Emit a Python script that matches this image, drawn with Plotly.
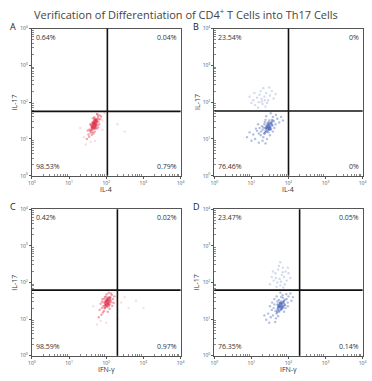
import numpy as np
import plotly.graph_objects as go

TITLE = "Verification of Differentiation of CD4<sup>+</sup> T Cells into Th17 Cells"
panels = ["A", "B", "C", "D"]
x_titles = ["IL-4", "IL-4", "IFN-γ", "IFN-γ"]
y_title = "IL-17"
tick_labels = ["10<sup>0</sup>", "10<sup>1</sup>", "10<sup>2</sup>", "10<sup>3</sup>", "10<sup>4</sup>"]
# quadrant percentages: [upper-left, upper-right, lower-left, lower-right]
quad_pct = [
    ["0.64%", "0.04%", "98.53%", "0.79%"],
    ["23.54%", "0%", "76.46%", "0%"],
    ["0.42%", "0.02%", "98.59%", "0.97%"],
    ["23.47%", "0.05%", "76.35%", "0.14%"],
]
# gate positions (decades)
gate_x = [2.03, 2.0, 2.3, 2.3]
gate_y = [1.75, 1.76, 1.79, 1.79]

# event clouds, in decades (log10 of fluorescence)
A_x = [1.67,1.70,1.64,1.72,1.60,1.75,1.68,1.62,1.78,1.58,1.66,1.73,1.69,1.63,1.80,1.55,1.71,1.65,1.76,1.59,
       1.82,1.52,1.68,1.74,1.61,1.70,1.57,1.79,1.66,1.84,1.50,1.64,1.72,1.77,1.62,1.69,1.54,1.81,1.67,1.75,
       1.48,1.86,1.60,1.73,1.65,1.71,1.56,1.78,1.63,1.69,
       1.66,1.70,1.63,1.73,1.68,1.61,1.75,1.65,1.71,1.69,1.64,1.72,1.67,1.60,1.74,1.66,1.70,1.62,1.68,1.76,
       1.65,1.71,1.63,1.69,1.73]
A_y = [1.43,1.36,1.42,1.54,1.25,1.51,1.27,1.44,1.60,1.17,1.37,1.37,1.55,1.18,1.54,1.26,1.47,1.32,1.37,1.38,
       1.64,1.12,1.59,1.28,1.11,1.52,1.40,1.47,1.15,1.54,1.23,1.56,1.42,1.66,1.30,1.20,1.06,1.40,1.50,1.68,
       1.00,1.61,1.34,1.50,1.46,1.30,1.22,1.31,1.33,1.42,
       1.40,1.45,1.33,1.48,1.36,1.30,1.46,1.28,1.41,1.50,1.38,1.34,1.31,1.22,1.42,1.46,1.30,1.36,1.44,1.55,
       1.41,1.38,1.26,1.33,1.50]
A_out_x = [1.45,1.40,1.58,1.90,1.95,2.30,2.50,1.30,1.70,1.90]
A_out_y = [0.85,1.05,0.92,1.50,1.70,1.40,1.20,1.30,0.95,1.25]

B_lo_x = [1.36,1.45,1.50,1.40,1.30,1.55,1.25,1.48,1.35,1.42,1.60,1.20,1.32,1.52,1.38,1.15,1.65,1.28,1.46,1.58,
          1.10,1.44,1.34,1.70,1.22,1.50,1.40,1.05,1.62,1.30,1.55,1.18,1.75,1.48,1.26,1.00,1.42,1.66,1.36,1.12,
          1.58,0.95,1.80,1.38,1.20,1.52,0.88,1.85,1.46,1.32,1.44,1.50,1.40,1.54,1.47,
          1.44,1.48,1.40,1.52,1.46,1.38,1.55,1.42,1.50,1.47,1.41,1.53,1.45,1.36,1.57,1.43,1.49,1.39,1.46,1.58,
          1.42,1.51,1.37,1.48,1.54]
B_lo_y = [1.29,1.35,1.42,1.20,1.25,1.38,1.10,1.50,1.40,1.30,1.48,1.15,1.05,1.25,1.52,1.22,1.40,1.35,1.18,1.60,
          1.00,1.44,1.15,1.55,1.30,1.10,1.62,1.12,1.30,0.95,1.52,1.40,1.45,1.28,1.20,0.95,1.00,1.65,1.46,1.28,
          1.20,1.18,1.60,0.88,0.90,1.70,1.05,1.50,1.38,1.32,1.26,1.33,1.36,1.45,1.31,
          1.33,1.38,1.27,1.42,1.30,1.22,1.40,1.20,1.34,1.45,1.32,1.28,1.24,1.15,1.36,1.41,1.25,1.30,1.39,1.50,
          1.35,1.31,1.18,1.27,1.46]
B_up_x = [1.27,1.35,1.20,1.40,1.15,1.30,1.45,1.10,1.25,1.50,1.05,1.38,1.22,1.55,1.00,1.32,1.18,1.60,1.42,1.08,
          1.28,1.48,0.95,1.36,1.65]
B_up_y = [2.09,2.15,2.00,2.25,2.12,1.95,2.05,1.92,2.30,2.18,2.05,1.88,2.20,2.30,1.98,2.38,1.85,2.10,1.98,2.25,
          2.02,2.40,2.15,2.05,2.22]

C_x = [2.00,2.05,1.95,2.08,1.92,2.12,2.02,1.97,2.15,1.88,2.03,2.10,1.99,1.94,2.18,1.85,2.06,1.98,2.13,1.90,
       2.20,1.82,2.01,2.09,1.93,2.04,1.87,2.16,1.96,2.22,1.80,2.07,2.11,1.91,2.00,2.14,1.89,2.03,1.97,2.06,
       2.01,2.05,1.98,2.08,2.03,1.96,2.10,2.00,2.06,2.04,1.99,2.07,2.02,1.95,2.09,2.01,2.05,1.97,2.03,2.11,
       2.00,2.06,1.98,2.04,2.08]
C_y = [1.50,1.42,1.55,1.60,1.35,1.52,1.33,1.48,1.66,1.30,1.58,1.40,1.62,1.22,1.55,1.42,1.50,1.38,1.70,1.55,
       1.44,1.25,1.68,1.28,1.45,1.20,1.12,1.36,1.60,1.62,1.05,1.72,1.58,1.18,1.40,1.46,1.48,1.52,1.30,1.35,
       1.48,1.52,1.42,1.56,1.45,1.38,1.50,1.36,1.44,1.58,1.46,1.40,1.40,1.30,1.47,1.54,1.38,1.44,1.52,1.60,
       1.49,1.46,1.34,1.41,1.55]
C_out_x = [1.75,1.85,2.40,2.60,2.80,2.30,1.65,2.00,2.50,3.00]
C_out_y = [0.85,0.95,1.45,1.30,1.50,1.00,1.35,0.90,1.60,1.30]

D_lo_x = [1.76,1.82,1.70,1.88,1.65,1.78,1.72,1.90,1.60,1.85,1.68,1.95,1.74,1.58,1.80,2.00,1.62,1.92,1.52,1.84,
          1.70,1.55,1.98,1.66,1.88,1.45,2.05,1.75,1.80,1.40,1.62,2.08,1.50,1.94,1.72,1.86,1.35,1.78,1.64,2.12,
          1.56,1.82,1.68,1.98,1.48,1.76,1.74,1.80,1.70,1.84,
          1.77,1.81,1.73,1.85,1.79,1.71,1.88,1.75,1.83,1.80,1.74,1.86,1.78,1.69,1.90,1.76,1.82,1.72,1.79,1.91,
          1.75,1.84,1.70,1.81,1.87]
D_lo_y = [1.34,1.42,1.28,1.50,1.22,1.45,1.38,1.38,1.30,1.58,1.15,1.55,1.52,1.10,1.25,1.62,1.40,1.30,1.05,1.65,
          1.48,1.25,1.45,1.02,1.20,1.15,1.70,1.20,1.60,0.98,1.55,1.50,1.35,1.68,1.08,1.35,1.10,1.72,0.92,1.60,
          1.45,1.30,1.62,1.35,0.90,1.42,1.32,1.36,1.40,1.46,
          1.36,1.41,1.30,1.45,1.33,1.25,1.43,1.23,1.37,1.48,1.35,1.31,1.27,1.18,1.39,1.44,1.28,1.33,1.42,1.53,
          1.38,1.34,1.21,1.30,1.49]
D_up_x = [1.76,1.82,1.70,1.88,1.65,1.78,1.92,1.60,1.85,1.72,1.95,1.55,1.80,2.00,1.68,1.74,1.90,1.58,2.05,1.84,
          1.50,1.98,1.66,1.78,1.86]
D_up_y = [2.10,2.20,2.00,2.15,2.25,1.92,2.30,2.05,2.40,2.35,2.05,2.15,2.02,2.25,1.88,2.45,1.95,2.30,2.12,2.28,
          1.95,2.40,2.12,2.55,1.86]

RED = "rgba(222,40,65,0.42)"
RED_FAINT = "rgba(235,120,135,0.25)"
BLUE = "rgba(55,85,175,0.38)"
BLUE_FAINT = "rgba(100,125,195,0.28)"

clouds = [
    [(A_out_x, A_out_y, RED_FAINT), (A_x, A_y, RED)],
    [(B_lo_x, B_lo_y, BLUE), (B_up_x, B_up_y, BLUE_FAINT)],
    [(C_out_x, C_out_y, RED_FAINT), (C_x, C_y, RED)],
    [(D_lo_x, D_lo_y, BLUE), (D_up_x, D_up_y, BLUE_FAINT)],
]

W, H = 372, 381
xdoms = [[28.5 / W, 180.5 / W], [215 / W, 366.5 / W]]
ydoms = [[1 - 175 / H, 1 - 25 / H], [1 - 358.3 / H, 1 - 209 / H]]

fig = go.Figure()
minor_vals = [m * 10 ** k for k in range(4) for m in range(2, 10)]
FONT = "Open Sans"
GRAY = "#444"

for i, p in enumerate(panels):
    col, row = i % 2, i // 2
    xa = "x" if i == 0 else f"x{i+1}"
    ya = "y" if i == 0 else f"y{i+1}"
    for (xs, ys, c) in clouds[i]:
        fig.add_trace(go.Scatter(
            x=np.power(10.0, xs), y=np.power(10.0, ys), mode="markers",
            marker=dict(size=2.4, color=c, line=dict(width=0)),
            xaxis=xa, yaxis=ya, showlegend=False, hoverinfo="skip"))
    axcommon = dict(type="log", range=[0, 4], tickvals=[1, 10, 100, 1000, 10000], ticktext=tick_labels,
                    showgrid=False, zeroline=False, showline=True, linecolor="#555", linewidth=1,
                    mirror=True, ticks="outside", ticklen=2, tickcolor="#555",
                    tickfont=dict(size=5, color="#555", family=FONT),
                    minor=dict(tickvals=minor_vals, ticks="inside", ticklen=2, tickcolor="#888", showgrid=False))
    xkey = "xaxis" if i == 0 else f"xaxis{i+1}"
    ykey = "yaxis" if i == 0 else f"yaxis{i+1}"
    fig.update_layout({
        xkey: dict(axcommon, domain=xdoms[col], anchor=ya),
        ykey: dict(axcommon, domain=ydoms[row], anchor=xa),
    })
    # quadrant gates
    gx = 10 ** gate_x[i]
    gy = 10 ** gate_y[i]
    fig.add_shape(type="line", xref=xa, yref=f"{ya} domain", x0=gx, x1=gx, y0=0, y1=1,
                  line=dict(color="#111", width=1.6))
    fig.add_shape(type="line", xref=f"{xa} domain", yref=ya, x0=0, x1=1, y0=gy, y1=gy,
                  line=dict(color="#111", width=1.6))
    # quadrant percentages
    pos = [(0.012, 0.94, "left"), (0.988, 0.94, "right"), (0.012, 0.06, "left"), (0.988, 0.06, "right")]
    for (px, py, al), t in zip(pos, quad_pct[i]):
        fig.add_annotation(text=t, xref=f"{xa} domain", yref=f"{ya} domain", x=px, y=py,
                           xanchor=al, yanchor="middle", showarrow=False,
                           font=dict(size=7, color="#333", family=FONT))
    # panel letter
    fig.add_annotation(text=p, xref="paper", yref="paper",
                       x=(xdoms[col][0] * W - 24) / W, y=ydoms[row][1] + 2.5 / H,
                       xanchor="left", yanchor="middle", showarrow=False,
                       font=dict(size=9, color="#222", family=FONT))
    # axis titles
    xc = (xdoms[col][0] + xdoms[col][1]) / 2
    yc = (ydoms[row][0] + ydoms[row][1]) / 2
    fig.add_annotation(text=x_titles[i], xref="paper", yref="paper", x=xc, y=ydoms[row][0] - 14 / H,
                       xanchor="center", yanchor="middle", showarrow=False,
                       font=dict(size=7, color="#333", family=FONT))
    fig.add_annotation(text=y_title, xref="paper", yref="paper", x=(xdoms[col][0] * W - 18) / W, y=yc,
                       xanchor="center", yanchor="middle", textangle=-90, showarrow=False,
                       font=dict(size=7, color="#333", family=FONT))

fig.add_annotation(text=TITLE, xref="paper", yref="paper", x=0.5, y=1 - 10.5 / H, xanchor="center",
                   yanchor="middle", showarrow=False, font=dict(size=11, color=GRAY, family=FONT))

fig.update_layout(width=W, height=H, margin=dict(l=0, r=0, t=0, b=0),
                  paper_bgcolor="white", plot_bgcolor="white")
fig.write_html("out.html", config={"displayModeBar": False},
               post_script="document.body.style.margin='0';document.body.style.padding='0';")
